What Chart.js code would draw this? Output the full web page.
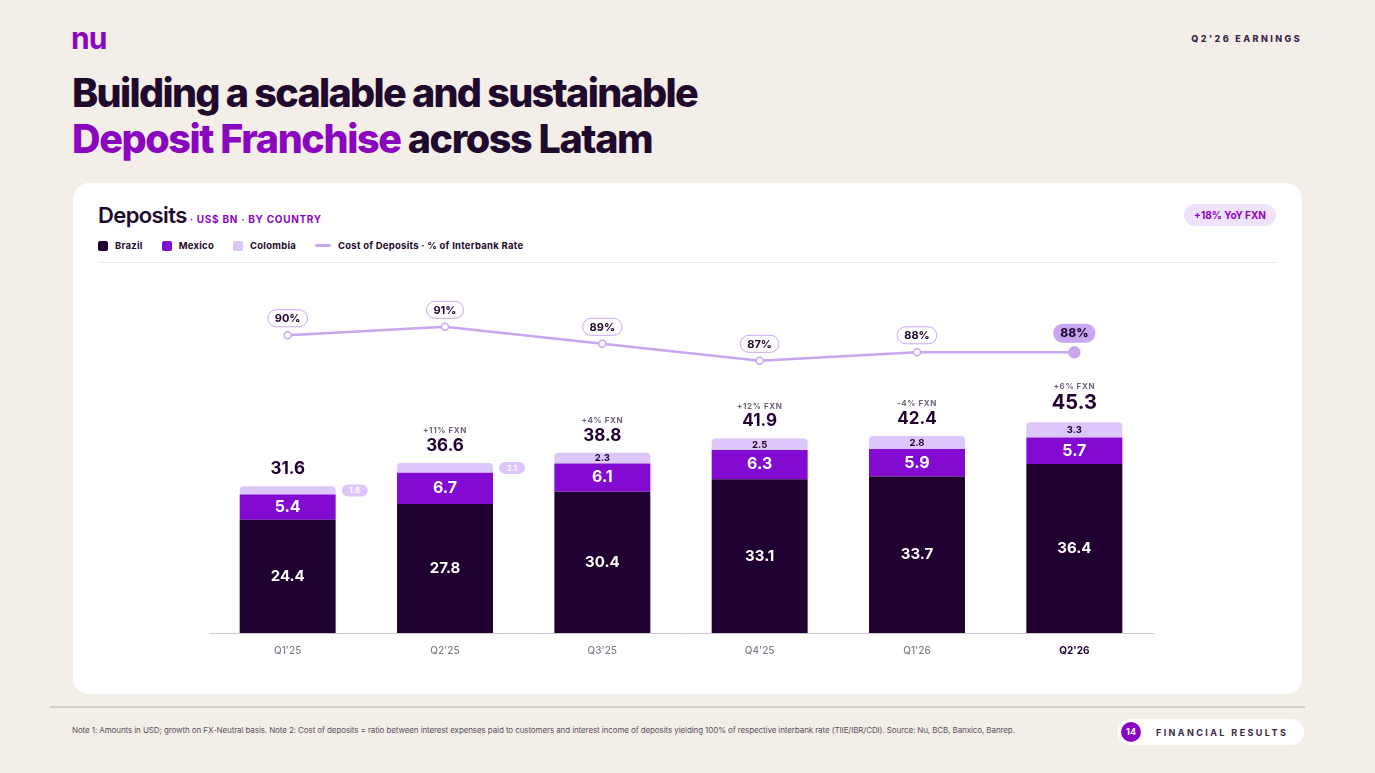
<!DOCTYPE html>
<html>
<head>
<meta charset="utf-8">
<script src="https://cdn.jsdelivr.net/npm/chart.js@4"></script>
<style>
  html, body { margin: 0; padding: 0; }
  body { width: 1375px; height: 773px; background: #f3eee7; position: relative; overflow: hidden; font-family: Inter, "Noto Sans", sans-serif; color: #1f0a2e; }
  .logo { position: absolute; left: 71px; top: 20px; font-size: 30px; font-weight: 700; color: #8a05be; letter-spacing: -1px; }
  .edition { position: absolute; right: 73px; top: 33px; font-size: 9px; font-weight: 800; letter-spacing: 2.4px; color: #3a2747; }
  .title { position: absolute; left: 72px; top: 70px; font-size: 39.5px; font-weight: 800; letter-spacing: -1.7px; line-height: 46px; }
  .title .hl { color: #8a05be; }
  .title .rest { letter-spacing: -1.4px; }
  .card { position: absolute; left: 73px; top: 183px; width: 1229px; height: 511px; background: #fff; border-radius: 16px; }
  .card h2 { position: absolute; left: 25px; top: 19px; margin: 0; font-size: 22px; font-weight: 600; letter-spacing: -0.6px; }
  .card h2 span { font-size: 10px; font-weight: 700; color: #8a05be; letter-spacing: 0.7px; margin-left: 3px; }
  .legend { position: absolute; left: 25px; top: 57px; font-size: 9.5px; font-weight: 700; display: flex; gap: 19px; align-items: center; letter-spacing: 0.25px; }
  .legend div { display: flex; align-items: center; gap: 7px; }
  .sw { width: 10px; height: 10px; border-radius: 2px; display: inline-block; }
  .ln { width: 16px; height: 3px; border-radius: 2px; background: #c9a6f0; display: inline-block; }
  .rule { position: absolute; left: 25px; right: 25px; top: 79px; height: 1px; background: #ece8ee; }
  .badge { position: absolute; right: 26px; top: 21px; background: #efe2fc; color: #8a05be; font-size: 10px; font-weight: 700; padding: 5px 10px; border-radius: 11px; }
  #chartWrap { position: absolute; left: 0; top: 87px; width: 1229px; height: 410px; }
  .footline { position: absolute; left: 50px; right: 70px; top: 706px; height: 2px; background: #d5cfca; }
  .note { position: absolute; left: 72px; top: 725px; font-size: 8px; color: #5c5060; letter-spacing: -0.1px; }
  .section { position: absolute; left: 1118px; top: 719px; width: 186px; height: 26px; background: #fff; border-radius: 13px; }
  .section .num { position: absolute; left: 3px; top: 3px; width: 20px; height: 20px; border-radius: 50%; background: #8a05be; color: #fff; font-size: 9px; font-weight: 700; text-align: center; line-height: 20px; }
  .section .txt { position: absolute; left: 38px; top: 8px; font-size: 9px; font-weight: 700; letter-spacing: 2.4px; color: #3a2747; }
</style>
</head>
<body>
<div class="logo">nu</div>
<div class="edition">Q2'26 EARNINGS</div>
<div class="title">Building a scalable and sustainable<br><span class="rest"><span class="hl">Deposit Franchise</span> across Latam</span></div>

<div class="card">
  <h2>Deposits<span>· US$ BN · BY COUNTRY</span></h2>
  <div class="badge">+18% YoY FXN</div>
  <div class="legend">
    <div><span class="sw" style="background:#1f0030"></span>Brazil</div>
    <div><span class="sw" style="background:#820ad1"></span>Mexico</div>
    <div><span class="sw" style="background:#dcc6fa"></span>Colombia</div>
    <div><span class="ln"></span>Cost of Deposits · % of Interbank Rate</div>
  </div>
  <div class="rule"></div>
  <div id="chartWrap"><canvas id="deposits"></canvas></div>
</div>

<div class="footline"></div>
<div class="note">Note 1: Amounts in USD; growth on FX-Neutral basis. Note 2: Cost of deposits = ratio between interest expenses paid to customers and interest income of deposits yielding 100% of respective interbank rate (TIIE/IBR/CDI). Source: Nu, BCB, Banxico, Banrep.</div>
<div class="section"><div class="num">14</div><div class="txt">FINANCIAL RESULTS</div></div>

<script>
const quarters = ["Q1'25", "Q2'25", "Q3'25", "Q4'25", "Q1'26", "Q2'26"];
const brazil = [24.4, 27.8, 30.4, 33.1, 33.7, 36.4];
const mexico = [5.4, 6.7, 6.1, 6.3, 5.9, 5.7];
const colombia = [1.8, 2.1, 2.3, 2.5, 2.8, 3.3];
const totals = [31.6, 36.6, 38.8, 41.9, 42.4, 45.3];
const fxnGrowth = ['', '+11% FXN', '+4% FXN', '+12% FXN', '-4% FXN', '+6% FXN'];
const costOfDeposits = [90, 91, 89, 87, 88, 88];

const DARK = '#1f0030';
const LINE = '#c9a6f0';

function pill(ctx, x, y, w, h) {
  ctx.beginPath();
  ctx.roundRect(x - w / 2, y - h / 2, w, h, h / 2);
}

const labelsPlugin = {
  id: 'labels',
  afterDatasetsDraw(chart) {
    const ctx = chart.ctx;
    const last = quarters.length - 1;
    ctx.save();
    ctx.textAlign = 'center';
    ctx.textBaseline = 'middle';
    quarters.forEach((q, i) => {
      const b = chart.getDatasetMeta(0).data[i];
      const m = chart.getDatasetMeta(1).data[i];
      const c = chart.getDatasetMeta(2).data[i];
      const p = chart.getDatasetMeta(3).data[i];

      ctx.fillStyle = '#fff';
      ctx.font = '700 15px Inter';
      ctx.fillText(brazil[i].toFixed(1), b.x, (b.y + b.base) / 2);
      ctx.font = '700 16px Inter';
      ctx.fillText(mexico[i].toFixed(1), m.x, (m.y + m.base) / 2);

      // thin Colombia segments get their value in a pill beside the bar
      const ch = c.base - c.y;
      if (ch >= 10.2) {
        ctx.fillStyle = DARK;
        ctx.font = '700 9.5px Inter';
        ctx.fillText(colombia[i].toFixed(1), c.x, (c.y + c.base) / 2 + 0.5);
      } else {
        const px = c.x + c.width / 2 + 19;
        const py = (c.y + c.base) / 2;
        ctx.fillStyle = '#dcc6fa';
        pill(ctx, px, py, 26, 12);
        ctx.fill();
        ctx.fillStyle = '#fff';
        ctx.font = '700 7.5px Inter';
        ctx.fillText(colombia[i].toFixed(1), px, py + 0.5);
      }

      const big = i === last;
      ctx.fillStyle = DARK;
      ctx.font = big ? '700 20px Inter' : '700 17px Inter';
      const ty = c.y - (big ? 19 : 17);
      ctx.fillText(totals[i].toFixed(1), c.x, ty);
      if (fxnGrowth[i]) {
        ctx.fillStyle = '#6e5f78';
        ctx.font = '700 8px Inter';
        ctx.letterSpacing = '0.6px';
        ctx.fillText(fxnGrowth[i], c.x, ty - (big ? 17 : 15));
        ctx.letterSpacing = '0px';
      }

      const txt = costOfDeposits[i] + '%';
      ctx.font = big ? '800 12px Inter' : '700 11px Inter';
      const w = ctx.measureText(txt).width + 14;
      const py2 = p.y - (big ? 19 : 17);
      pill(ctx, p.x, py2, w, big ? 19 : 17);
      if (big) {
        ctx.fillStyle = LINE;
        ctx.fill();
      } else {
        ctx.fillStyle = '#fff';
        ctx.fill();
        ctx.strokeStyle = LINE;
        ctx.lineWidth = 1;
        ctx.stroke();
      }
      ctx.fillStyle = DARK;
      ctx.fillText(txt, p.x, py2 + 0.5);
    });
    ctx.restore();
  }
};

const chart = new Chart(document.getElementById('deposits'), {
  type: 'bar',
  data: {
    labels: quarters,
    datasets: [
      { label: 'Brazil', data: brazil, backgroundColor: DARK, order: 2 },
      { label: 'Mexico', data: mexico, backgroundColor: '#820ad1', order: 2 },
      { label: 'Colombia', data: colombia, backgroundColor: '#dcc6fa', order: 2,
        borderRadius: { topLeft: 4, topRight: 4 }, borderSkipped: 'bottom' },
      {
        type: 'line', label: 'Cost of Deposits', data: costOfDeposits, yAxisID: 'y1', order: 0,
        borderColor: LINE, borderWidth: 2.5, tension: 0,
        pointRadius: [3.5, 3.5, 3.5, 3.5, 3.5, 5.5],
        pointBackgroundColor: ['#fff', '#fff', '#fff', '#fff', '#fff', LINE],
        pointBorderColor: LINE, pointBorderWidth: 1.5
      }
    ]
  },
  options: {
    responsive: true,
    maintainAspectRatio: false,
    animation: false,
    layout: { padding: { left: 136, right: 149, top: 10, bottom: 11 } },
    datasets: { bar: { categoryPercentage: 1, barPercentage: 0.61 } },
    plugins: { legend: { display: false }, tooltip: { enabled: false } },
    scales: {
      x: {
        stacked: true,
        grid: { display: false, drawTicks: false },
        border: { display: true, color: '#cfcbd2', width: 1 },
        ticks: {
          padding: 12,
          color: (c) => c.index === quarters.length - 1 ? DARK : '#857a8c',
          font: (c) => ({ family: 'Inter', size: 10, weight: c.index === quarters.length - 1 ? '700' : '500' })
        }
      },
      y: { stacked: true, display: false, min: 0, max: 76 },
      y1: { display: false, min: 55, max: 96.5 }
    }
  },
  plugins: [labelsPlugin]
});
</script>
</body>
</html>
